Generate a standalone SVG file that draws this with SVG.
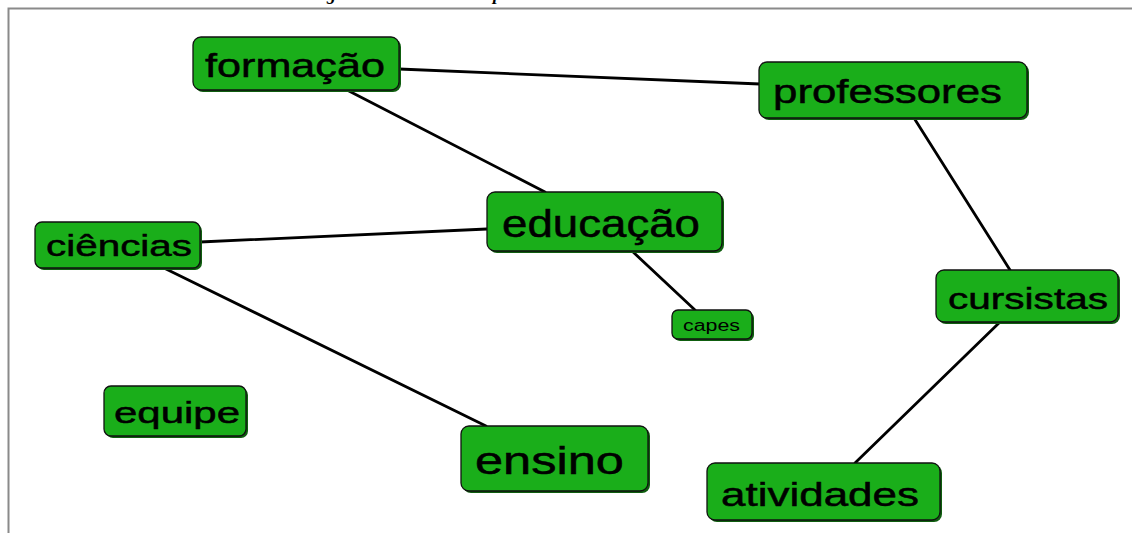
<svg xmlns="http://www.w3.org/2000/svg" width="1132" height="533" viewBox="0 0 1132 533">
<style>
.node rect.sh{fill:#0f5e0f}
.node rect.bx{fill:#1aae1a;stroke:#111;stroke-width:1.3}
.node text{font-family:"Liberation Sans",Arial,sans-serif;fill:#000;stroke:#000;stroke-width:0.5;text-anchor:start}
.node text.sm{stroke:none}
.cap{font-family:"Liberation Serif","Times New Roman",serif;font-style:italic;font-weight:bold;font-size:18px;fill:#000}
#connectors line{stroke:#000;stroke-width:2.8;stroke-linecap:round}
</style>
<rect x="0" y="0" width="1132" height="533" fill="#fff"/>
<text class="cap" x="327" y="0">g</text>
<text class="cap" x="493" y="0">p</text>
<path d="M8.5,533 V8.5 H1132" fill="none" stroke="#8a8a8a" stroke-width="2"/>
<g id="connectors">
<line x1="399" y1="69" x2="760" y2="84"/>
<line x1="347" y1="90" x2="545" y2="192"/>
<line x1="200" y1="242" x2="487" y2="229"/>
<line x1="632" y1="251" x2="695" y2="310"/>
<line x1="166" y1="269" x2="486" y2="426"/>
<line x1="914" y1="118" x2="1010" y2="270"/>
<line x1="1000" y1="322" x2="855" y2="463"/>
</g>
<g id="n-formacao" class="node">
<rect class="sh" x="195" y="39" width="206" height="53" rx="8"/>
<rect class="bx" x="193" y="37" width="206" height="53" rx="8"/>
<text x="205" y="77" font-size="34" textLength="180" lengthAdjust="spacingAndGlyphs">formação</text>
</g>
<g id="n-professores" class="node">
<rect class="sh" x="761" y="64" width="268" height="56" rx="8"/>
<rect class="bx" x="759" y="62" width="268" height="56" rx="8"/>
<text x="773" y="103" font-size="34" textLength="229" lengthAdjust="spacingAndGlyphs">professores</text>
</g>
<g id="n-educacao" class="node">
<rect class="sh" x="489" y="194" width="235" height="59" rx="8"/>
<rect class="bx" x="487" y="192" width="235" height="59" rx="8"/>
<text x="502" y="237" font-size="38" textLength="198" lengthAdjust="spacingAndGlyphs">educação</text>
</g>
<g id="n-ciencias" class="node">
<rect class="sh" x="37" y="224" width="165" height="46" rx="7"/>
<rect class="bx" x="35" y="222" width="165" height="46" rx="7"/>
<text x="46" y="256" font-size="30" textLength="146" lengthAdjust="spacingAndGlyphs">ciências</text>
</g>
<g id="n-capes" class="node">
<rect class="sh" x="674" y="312" width="80" height="29" rx="6"/>
<rect class="bx" x="672" y="310" width="80" height="29" rx="6"/>
<text class="sm" x="683" y="331" font-size="16" textLength="57" lengthAdjust="spacingAndGlyphs">capes</text>
</g>
<g id="n-cursistas" class="node">
<rect class="sh" x="938" y="272" width="182" height="52" rx="8"/>
<rect class="bx" x="936" y="270" width="182" height="52" rx="8"/>
<text x="948" y="309" font-size="30" textLength="160" lengthAdjust="spacingAndGlyphs">cursistas</text>
</g>
<g id="n-equipe" class="node">
<rect class="sh" x="106" y="388" width="142" height="50" rx="7"/>
<rect class="bx" x="104" y="386" width="142" height="50" rx="7"/>
<text x="114" y="423" font-size="30" textLength="126" lengthAdjust="spacingAndGlyphs">equipe</text>
</g>
<g id="n-ensino" class="node">
<rect class="sh" x="463" y="428" width="187" height="65" rx="8"/>
<rect class="bx" x="461" y="426" width="187" height="65" rx="8"/>
<text x="475" y="474" font-size="38" textLength="149" lengthAdjust="spacingAndGlyphs">ensino</text>
</g>
<g id="n-atividades" class="node">
<rect class="sh" x="709" y="465" width="233" height="57" rx="8"/>
<rect class="bx" x="707" y="463" width="233" height="57" rx="8"/>
<text x="721" y="506" font-size="34" textLength="198" lengthAdjust="spacingAndGlyphs">atividades</text>
</g>
</svg>
